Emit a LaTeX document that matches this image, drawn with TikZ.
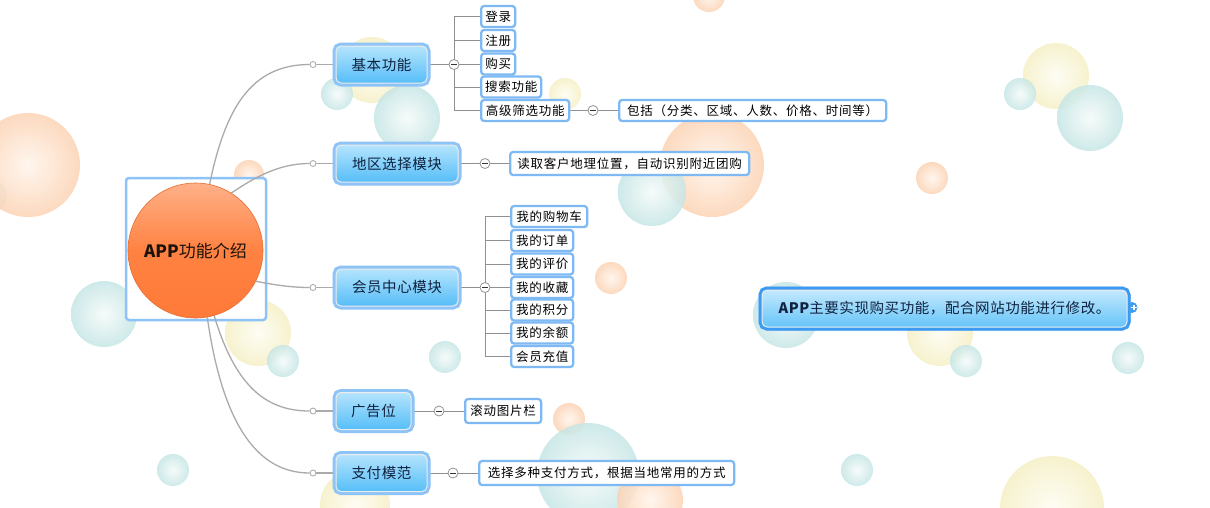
\documentclass[tikz,border=0pt]{standalone}
\usepackage{fontspec}
\setmainfont{Noto Sans CJK SC}
\usetikzlibrary{calc}
\pgfdeclarelayer{bg}
\pgfdeclarelayer{lines}
\pgfsetlayers{bg,lines,main}
\definecolor{frameblue}{HTML}{8DC3F6}
\definecolor{callframe}{HTML}{3C9AF0}
\definecolor{brtop}{HTML}{B4E4FD}
\definecolor{brbot}{HTML}{56BEF8}
\definecolor{brtext}{HTML}{10223F}
\definecolor{leafblue}{HTML}{7FB9F4}
\definecolor{linegray}{HTML}{AAAAAA}
\definecolor{tealout}{HTML}{C6E6E6}
\definecolor{tealin}{HTML}{F5FBF9}
\definecolor{orout}{HTML}{FCD3B4}
\definecolor{orin}{HTML}{FFF5EC}
\definecolor{yelout}{HTML}{F5F0C6}
\definecolor{yelin}{HTML}{FEFDF2}
\definecolor{ortop}{HTML}{FFB088}
\definecolor{ormid}{HTML}{FF8242}
\definecolor{orbot}{HTML}{FF7A38}
\newcommand\bubble[4]{\shade[#1] (#2,#3) circle (#4pt);}
\newcommand\leaffont{\fontsize{12.5}{14}\selectfont\addfontfeatures{LetterSpace=6}}
\newcommand\branchfont{\fontsize{14.5}{16}\selectfont\addfontfeatures{LetterSpace=4}}
\begin{document}
\begin{tikzpicture}[x=1pt,y=-1pt,
  bubT/.style={inner color=tealin, outer color=tealout, opacity=0.85},
  bubO/.style={inner color=orin, outer color=orout, opacity=0.85},
  bubY/.style={inner color=yelin, outer color=yelout, opacity=0.85},
  branch/.style={rounded corners=5pt, draw=white!85!gray, line width=1pt,
    top color=brtop, bottom color=brbot, minimum height=37pt, inner sep=0pt,
    font=\branchfont, text=brtext,
    preaction={draw=frameblue, line width=7pt, rounded corners=7pt}},
  callout/.style={branch, top color=brtop!80!white, bottom color=brbot!90!white,
    preaction={draw=callframe, line width=7pt, rounded corners=7pt}},
  leaf/.style={draw=leafblue, line width=2.3pt, fill=white, rounded corners=3pt,
    minimum height=21pt, inner sep=0pt, anchor=west,
    font=\leaffont, text=black},
  mk/.style={circle, draw=gray!85, fill=white, line width=0.8pt, minimum size=10pt,
    inner sep=0pt, path picture={\draw[line width=1pt, black!80]
      (path picture bounding box.center) ++(-2.6pt,0) -- ++(5.2pt,0);}},
  jn/.style={circle, draw=gray!70, fill=white, line width=0.8pt, minimum size=6pt, inner sep=0pt},
  trunk/.style={draw=linegray, line width=1.3pt},
  stub/.style={draw=linegray, line width=1.8pt},
  twig/.style={draw=linegray!85!black, line width=1pt}]
\useasboundingbox (0,0) rectangle (1210,507);

% ---------- background bubbles and central frame ----------
\begin{pgfonlayer}{bg}
\fill[white] (0,0) rectangle (1210,507);
\begin{scope}
\clip (0,0) rectangle (1210,507);
\bubble{bubT}{-10}{196}{17}
\bubble{bubO}{28}{165}{52}
\bubble{bubO}{709}{-4}{16}
\bubble{bubY}{1056}{76}{33}
\bubble{bubT}{1020}{94}{16}
\bubble{bubT}{1090}{118}{33}
\bubble{bubO}{932}{178}{16}
\bubble{bubO}{712}{165}{52}
\bubble{bubT}{652}{192}{34}
\bubble{bubY}{372}{70}{33}
\bubble{bubT}{337}{94}{16}
\bubble{bubT}{407}{118}{33}
\bubble{bubY}{565}{94}{16}
\bubble{bubO}{249}{175}{15}
\bubble{bubT}{104}{314}{33}
\bubble{bubY}{258}{333}{33}
\bubble{bubT}{283}{361}{16}
\bubble{bubT}{445}{357}{16}
\bubble{bubO}{611}{278}{16}
\bubble{bubO}{569}{419}{16}
\bubble{bubT}{588}{474}{51}
\bubble{bubO}{650}{500}{33}
\bubble{bubT}{173}{470}{16}
\bubble{bubY}{355}{505}{35}
\bubble{bubT}{786}{315}{33}
\bubble{bubY}{940}{333}{33}
\bubble{bubT}{966}{361}{16}
\bubble{bubT}{1128}{358}{16}
\bubble{bubT}{857}{470}{16}
\bubble{bubY}{1052}{508}{52}
\end{scope}
\node[draw=frameblue, line width=2.5pt, rounded corners=3pt, fill=white,
  minimum width=140pt, minimum height=142pt, inner sep=0pt] (frame) at (196,249) {};
\end{pgfonlayer}

% ---------- central topic ----------
\node[circle, minimum size=135pt, inner sep=0pt, draw=orbot!90!black, line width=0.6pt,
  top color=ortop, bottom color=orbot, middle color=ormid,
  font=\fontsize{17}{20}\selectfont, text=black!85!brown] (ctr) at (195.5,250.5)
  {{\bfseries APP}功能介绍};

% ---------- main branches ----------
\node[branch, minimum width=91pt]  (b1) at (381.5,64.5) {基本功能};
\node[branch, minimum width=122pt] (b2) at (397,163.5) {地区选择模块};
\node[branch, minimum width=122pt] (b3) at (397,287.5) {会员中心模块};
\node[branch, minimum width=75pt]  (b4) at (373.5,411) {广告位};
\node[branch, minimum width=91pt]  (b5) at (381.5,473) {支付模范};

% ---------- junctions ----------
\node[jn] (j1) at (313,64.5) {};
\node[jn] (j2) at (313,163.5) {};
\node[jn] (j3) at (313,287.5) {};
\node[jn] (j4) at (313,411) {};
\node[jn] (j5) at (313,473) {};

% ---------- leaves ----------
\node[leaf, minimum width=34pt]  (l11) at (480,16.5) {登录};
\node[leaf, minimum width=34pt]  (l12) at (480,40.5) {注册};
\node[leaf, minimum width=34pt]  (l13) at (480,64) {购买};
\node[leaf, minimum width=60pt]  (l14) at (480,87) {搜索功能};
\node[leaf, minimum width=88pt]  (l15) at (480,110.5) {高级筛选功能};
\node[leaf, minimum width=267pt] (l16) at (618,110.5) {包括（分类、区域、人数、价格、时间等）};
\node[leaf, minimum width=239pt, minimum height=23pt] (l21) at (509,163.5) {读取客户地理位置，自动识别附近团购};
\node[leaf, minimum width=76pt]  (l31) at (510,216.5) {我的购物车};
\node[leaf, minimum width=62pt]  (l32) at (510,240.5) {我的订单};
\node[leaf, minimum width=62pt]  (l33) at (510,264) {我的评价};
\node[leaf, minimum width=62pt]  (l34) at (510,287.5) {我的收藏};
\node[leaf, minimum width=62pt]  (l35) at (510,310) {我的积分};
\node[leaf, minimum width=62pt]  (l36) at (510,333) {我的余额};
\node[leaf, minimum width=62pt]  (l37) at (510,356.5) {会员充值};
\node[leaf, minimum width=76pt, minimum height=24pt]  (l41) at (464,411) {滚动图片栏};
\node[leaf, minimum width=255pt, minimum height=24pt] (l51) at (478,473) {选择多种支付方式，根据当地常用的方式};

% ---------- collapse markers ----------
\node[mk] (m1) at (454,64.5) {};
\node[mk] (m2) at (593,110.5) {};
\node[mk] (m3) at (485,163.5) {};
\node[mk] (m4) at (485,287.5) {};
\node[mk] (m5) at (439,411) {};
\node[mk] (m6) at (453,473) {};

% ---------- floating callout ----------
\node[circle, fill=callframe, minimum size=11pt, inner sep=0pt,
  path picture={\draw[white, line width=1.6pt]
    (path picture bounding box.center) ++(-0.8pt,0) -- ++(5.4pt,0)
    (path picture bounding box.center) ++(1.9pt,-2.7pt) -- ++(0,5.4pt);}] (tab) at (1132,307.5) {};
\node[callout, minimum width=365pt] (call) at (944.5,308.5)
  {{\bfseries APP}主要实现购买功能，配合网站功能进行修改。};

% ---------- connectors ----------
\begin{pgfonlayer}{lines}
\draw[trunk] (ctr.78) .. controls (225,110) and (250,64.5) .. (j1);
\draw[trunk] (ctr.58) .. controls (262,172) and (285,163.5) .. (j2);
\draw[trunk] (ctr.-27) .. controls (280,286) and (295,287.5) .. (j3);
\draw[trunk] (ctr.-74) .. controls (235,385) and (265,411) .. (j4);
\draw[trunk] (ctr.-80) .. controls (222,420) and (255,473) .. (j5);
\draw[stub] (j1) -- (b1);
\draw[stub] (j2) -- (b2);
\draw[stub] (j3) -- (b3);
\draw[stub] (j4) -- (b4);
\draw[stub] (j5) -- (b5);

\draw[twig] (b1.east) -- (m1);
\draw[twig] (m1.center |- l11.west) -- (m1.center |- l15.west);
\foreach \l in {l11,l12,l13,l14,l15} \draw[twig] (m1.center |- \l.west) -- (\l.west);
\draw[twig] (l15.east) -- (m2) -- (l16.west);
\draw[twig] (b2.east) -- (m3) -- (l21.west);
\draw[twig] (b3.east) -- (m4);
\draw[twig] (m4.center |- l31.west) -- (m4.center |- l37.west);
\foreach \l in {l31,l32,l33,l34,l35,l36,l37} \draw[twig] (m4.center |- \l.west) -- (\l.west);
\draw[twig] (b4.east) -- (m5) -- (l41.west);
\draw[twig] (b5.east) -- (m6) -- (l51.west);
\end{pgfonlayer}
\end{tikzpicture}
\end{document}
